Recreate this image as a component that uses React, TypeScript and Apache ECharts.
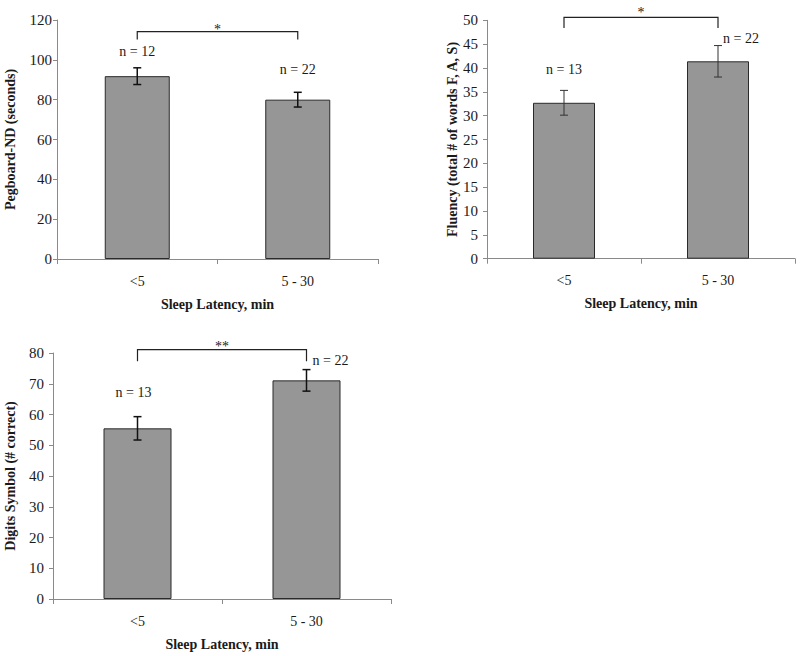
import React, { useEffect, useRef } from "react";
import * as echarts from "echarts";

// ---- data ----
const categories = ["<5", "5 - 30"];

const pegboardMeans = [91.8, 80.0];
const pegboardErrors = [4.2, 3.7];
const pegboardN = [12, 22];
const pegboardSig = "*";
const pegboardBracket = [114.2, 110.2]; // bracket level, end-tip level
const pegboardNLabelY = [104, 95];

const fluencyMeans = [32.7, 41.4];
const fluencyErrors = [2.6, 3.3];
const fluencyN = [13, 22];
const fluencySig = "*";
const fluencyBracket = [50.6, 48.4];
const fluencyNLabelY = [39.6, 46.1];

const digitsMeans = [55.5, 71.1];
const digitsErrors = [3.8, 3.5];
const digitsN = [13, 22];
const digitsSig = "**";
const digitsBracket = [81.1, 77.3];
const digitsNLabelY = [67.2, 77.5];

const FONT = "'Liberation Serif', 'Times New Roman', serif";
const AXIS_GRAY = "#8a8a8a";
const TEXT = "#1a1a1a";

export default function App() {
  const ref = useRef<HTMLDivElement>(null);

  useEffect(() => {
    document.body.style.margin = "0";
    if (!ref.current) return;
    const chart = echarts.init(ref.current, undefined, { renderer: "svg" });

    const grids = [
      { left: 57, right: 422, top: 20, bottom: 397 },
      { left: 487, right: 5, top: 20.3, bottom: 397.3 },
      { left: 53, right: 409, top: 353, bottom: 57 },
    ];

    const yNames = [
      "Pegboard-ND (seconds)",
      "Fluency (total # of words F, A, S)",
      "Digits Symbol (# correct)",
    ];
    const yMax = [120, 50, 80];
    const yInterval = [20, 5, 10];
    const yNameGap = [40, 28, 36];
    const yLabelMargin = [5, 9, 9];
    const barWidths = [65, 62, 68];
    const errWidth = [1.5, 1, 1.5];
    const errColor = ["#111", "#333", "#111"];
    const starGap = [2, 5, 3];
    const nLabelDx = [
      [0, 0],
      [0, 23],
      [-4, 24],
    ];

    const means = [pegboardMeans, fluencyMeans, digitsMeans];
    const errs = [pegboardErrors, fluencyErrors, digitsErrors];
    const ns = [pegboardN, fluencyN, digitsN];
    const sigs = [pegboardSig, fluencySig, digitsSig];
    const brackets = [pegboardBracket, fluencyBracket, digitsBracket];
    const nYs = [pegboardNLabelY, fluencyNLabelY, digitsNLabelY];

    const xAxis = grids.map((_, i) => ({
      type: "category",
      gridIndex: i,
      data: categories,
      axisLine: { show: true, lineStyle: { color: AXIS_GRAY, width: 1 } },
      axisTick: { show: true, length: 5, lineStyle: { color: AXIS_GRAY } },
      axisLabel: { fontSize: 14, color: TEXT, fontFamily: FONT, margin: 15 },
      name: "Sleep Latency, min",
      nameLocation: "middle",
      nameGap: 38,
      nameTextStyle: {
        fontSize: 14,
        fontWeight: "bold",
        color: TEXT,
        fontFamily: FONT,
      },
    }));

    const yAxis = grids.map((_, i) => ({
      type: "value",
      gridIndex: i,
      min: 0,
      max: yMax[i],
      interval: yInterval[i],
      splitLine: { show: false },
      axisLine: { show: true, lineStyle: { color: AXIS_GRAY, width: 1 } },
      axisTick: { show: true, length: 4, lineStyle: { color: AXIS_GRAY } },
      axisLabel: {
        fontSize: 15,
        color: TEXT,
        fontFamily: FONT,
        margin: yLabelMargin[i],
      },
      name: yNames[i],
      nameLocation: "middle",
      nameGap: yNameGap[i],
      nameTextStyle: {
        fontSize: 14,
        fontWeight: "bold",
        color: TEXT,
        fontFamily: FONT,
      },
    }));

    const series: any[] = [];
    grids.forEach((_, g) => {
      series.push({
        type: "bar",
        xAxisIndex: g,
        yAxisIndex: g,
        data: means[g],
        barWidth: barWidths[g],
        itemStyle: { color: "#969696", borderColor: "#2a2a2a", borderWidth: 1 },
        z: 2,
      });
      // error bars
      series.push({
        type: "custom",
        xAxisIndex: g,
        yAxisIndex: g,
        z: 5,
        data: means[g].map((m, i) => [i, m - errs[g][i], m + errs[g][i]]),
        renderItem: (params: any, api: any) => {
          const lo = api.coord([api.value(0), api.value(1)]);
          const hi = api.coord([api.value(0), api.value(2)]);
          const hw = 4;
          const st = { stroke: errColor[g], lineWidth: errWidth[g] };
          return {
            type: "group",
            children: [
              { type: "line", shape: { x1: lo[0], y1: lo[1], x2: hi[0], y2: hi[1] }, style: st },
              { type: "line", shape: { x1: lo[0] - hw, y1: lo[1], x2: lo[0] + hw, y2: lo[1] }, style: st },
              { type: "line", shape: { x1: hi[0] - hw, y1: hi[1], x2: hi[0] + hw, y2: hi[1] }, style: st },
            ],
          };
        },
      });
      // significance bracket
      series.push({
        type: "custom",
        xAxisIndex: g,
        yAxisIndex: g,
        z: 5,
        clip: false,
        data: [[0, 1, brackets[g][0], brackets[g][1]]],
        renderItem: (params: any, api: any) => {
          const a = api.coord([api.value(0), api.value(2)]);
          const b = api.coord([api.value(1), api.value(2)]);
          const aTip = api.coord([api.value(0), api.value(3)]);
          const bTip = api.coord([api.value(1), api.value(3)]);
          return {
            type: "group",
            children: [
              {
                type: "polyline",
                shape: {
                  points: [
                    [aTip[0], aTip[1]],
                    [a[0], a[1]],
                    [b[0], b[1]],
                    [bTip[0], bTip[1]],
                  ],
                },
                style: { stroke: "#222", lineWidth: 1.2, fill: "none" },
              },
              {
                type: "text",
                x: (a[0] + b[0]) / 2,
                y: a[1] - starGap[g],
                style: {
                  text: sigs[g],
                  fontSize: 14,
                  fontFamily: FONT,
                  fill: TEXT,
                  align: "center",
                  verticalAlign: "middle",
                },
              },
            ],
          };
        },
      });
      // n labels
      series.push({
        type: "custom",
        xAxisIndex: g,
        yAxisIndex: g,
        z: 5,
        clip: false,
        data: ns[g].map((n, i) => [i, nYs[g][i], n]),
        renderItem: (params: any, api: any) => {
          const p = api.coord([api.value(0), api.value(1)]);
          const idx = params.dataIndex;
          return {
            type: "text",
            x: p[0] + nLabelDx[g][idx],
            y: p[1],
            style: {
              text: "n = " + api.value(2),
              fontSize: 14,
              fontFamily: FONT,
              fill: TEXT,
              align: "center",
              verticalAlign: "middle",
            },
          };
        },
      });
    });

    chart.setOption({
      animation: false,
      backgroundColor: "#ffffff",
      textStyle: { fontFamily: FONT },
      grid: grids.map((g) => ({ ...g, containLabel: false })),
      xAxis,
      yAxis,
      series,
    } as any);

    return () => chart.dispose();
  }, []);

  return <div ref={ref} style={{ width: 800, height: 656 }} />;
}
